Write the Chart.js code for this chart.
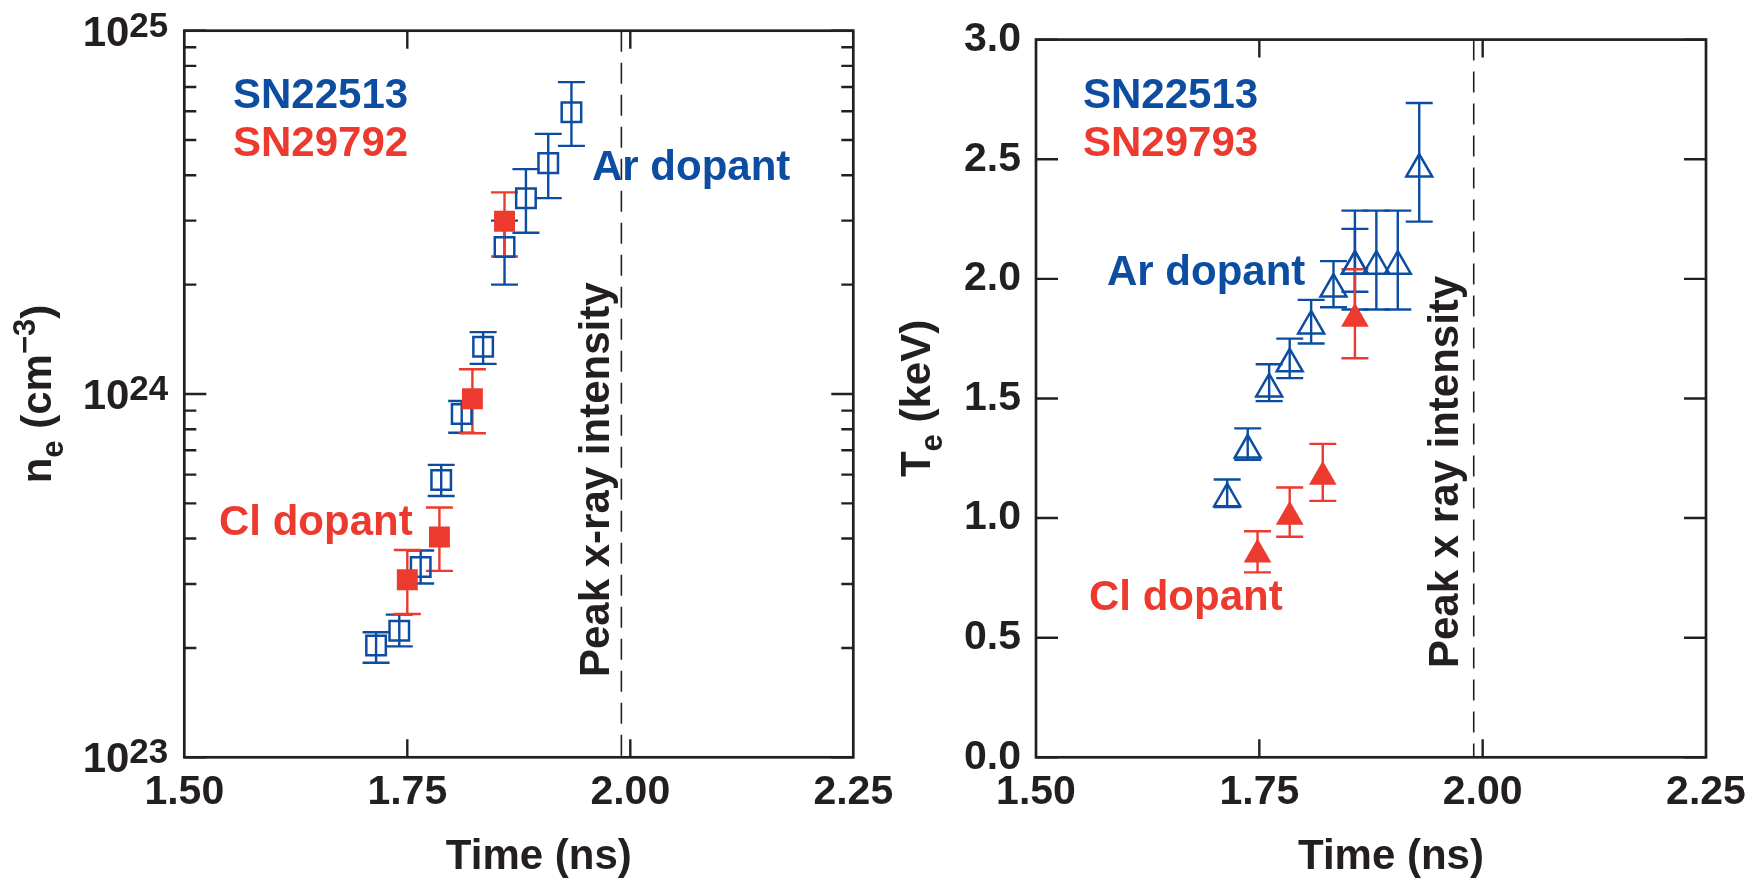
<!DOCTYPE html>
<html>
<head>
<meta charset="utf-8">
<script src="https://cdn.jsdelivr.net/npm/chart.js@4.4.1/dist/chart.umd.min.js"></script>
<style>
  html, body { margin: 0; padding: 0; background: #ffffff; }
  body { width: 1760px; height: 881px; position: relative; overflow: hidden; }
  canvas { position: absolute; top: 0; }
  #cA { left: 0; }
  #cB { left: 880px; }
</style>
</head>
<body>
<canvas id="cA" width="920" height="881"></canvas>
<canvas id="cB" width="880" height="881"></canvas>
<script>
// ---------------- data ----------------
const X_TICKS = [1.50, 1.75, 2.00, 2.25];
const X_TITLE = 'Time (ns)';
const PEAK_XRAY_TIME = 1.99;

// Left panel: electron density n_e (cm^-3)
const NE_AR_TIME = [1.715, 1.741, 1.765, 1.788, 1.811, 1.835, 1.859, 1.883, 1.908, 1.934];
const NE_AR      = [2.03e23, 2.23e23, 3.34e23, 5.80e23, 8.81e23, 1.35e24, 2.54e24, 3.46e24, 4.32e24, 5.96e24];
const NE_AR_LOW  = [1.82e23, 2.02e23, 3.01e23, 5.24e23, 7.82e23, 1.21e24, 2.00e24, 2.78e24, 3.46e24, 4.82e24];
const NE_AR_HIGH = [2.21e23, 2.47e23, 3.71e23, 6.38e23, 9.57e23, 1.48e24, 3.00e24, 4.16e24, 5.20e24, 7.22e24];
const NE_CL_TIME = [1.750, 1.786, 1.823, 1.859];
const NE_CL      = [3.08e23, 4.04e23, 9.70e23, 2.99e24];
const NE_CL_LOW  = [2.48e23, 3.26e23, 7.80e23, 2.39e24];
const NE_CL_HIGH = [3.72e23, 4.87e23, 1.17e24, 3.59e24];
const NE_MAJOR_TICKS = [1e23, 1e24, 1e25];
const NE_MAJOR_EXP   = ['23', '24', '25'];
const NE_MINOR_TICKS = [2e23, 3e23, 4e23, 5e23, 6e23, 7e23, 8e23, 9e23,
                        2e24, 3e24, 4e24, 5e24, 6e24, 7e24, 8e24, 9e24];

// Right panel: electron temperature T_e (keV)
const TE_AR_TIME = [1.714, 1.737, 1.761, 1.784, 1.808, 1.833, 1.857, 1.857, 1.881, 1.905, 1.929];
const TE_AR      = [1.081, 1.284, 1.540, 1.645, 1.803, 1.957, 2.053, 2.053, 2.053, 2.053, 2.459];
const TE_AR_LOW  = [1.046, 1.244, 1.489, 1.585, 1.730, 1.881, 1.946, 1.872, 1.872, 1.872, 2.239];
const TE_AR_HIGH = [1.161, 1.375, 1.643, 1.750, 1.912, 2.074, 2.209, 2.285, 2.285, 2.285, 2.735];
const TE_CL_TIME = [1.748, 1.784, 1.821, 1.857];
const TE_CL      = [0.848, 1.005, 1.173, 1.833];
const TE_CL_LOW  = [0.773, 0.922, 1.072, 1.668];
const TE_CL_HIGH = [0.945, 1.128, 1.310, 2.040];
const TE_TICKS = [0.0, 0.5, 1.0, 1.5, 2.0, 2.5, 3.0];

// ---------------- style ----------------
const BLUE = '#0D4DA1';
const RED  = '#EC3A2F';
const INK  = '#231F20';
const FONT = '"Liberation Sans", Arial, Helvetica, sans-serif';
Chart.defaults.font.family = FONT;
Chart.defaults.color = INK;

const CAP = 13.5;

function pts(xs, ys) { return xs.map((t, i) => ({ x: t, y: ys[i] })); }

function drawRich(ctx, segs, baseX, centerY) {
  ctx.save();
  ctx.translate(baseX, centerY);
  ctx.rotate(-Math.PI / 2);
  ctx.textAlign = 'left';
  ctx.textBaseline = 'alphabetic';
  let total = 0;
  segs.forEach(s => { ctx.font = 'bold ' + s.size + 'px ' + FONT; s.w = ctx.measureText(s.t).width; total += s.w; });
  let cx = -total / 2;
  segs.forEach(s => {
    ctx.font = 'bold ' + s.size + 'px ' + FONT;
    ctx.fillText(s.t, cx, s.dy || 0);
    cx += s.w;
  });
  ctx.restore();
}

function panelPlugin(opt) {
  return {
    id: 'panel_' + opt.name,
    beforeDatasetsDraw(chart) {
      const ctx = chart.ctx, a = chart.chartArea, xs = chart.scales.x, ys = chart.scales.y;
      ctx.save();
      const px = xs.getPixelForValue(PEAK_XRAY_TIME);
      ctx.strokeStyle = INK; ctx.lineWidth = 1.6; ctx.setLineDash([21, 11]);
      ctx.beginPath(); ctx.moveTo(px, a.top); ctx.lineTo(px, a.bottom); ctx.stroke();
      ctx.setLineDash([]);
      ctx.lineWidth = 2.4; ctx.lineCap = 'butt';
      opt.errors.forEach(s => {
        ctx.strokeStyle = s.color;
        s.time.forEach((t, i) => {
          const x = xs.getPixelForValue(t);
          const y1 = ys.getPixelForValue(s.low[i]);
          const y2 = ys.getPixelForValue(s.high[i]);
          ctx.beginPath();
          ctx.moveTo(x, y1); ctx.lineTo(x, y2);
          ctx.moveTo(x - CAP, y1); ctx.lineTo(x + CAP, y1);
          ctx.moveTo(x - CAP, y2); ctx.lineTo(x + CAP, y2);
          ctx.stroke();
        });
      });
      ctx.restore();
    },
    afterDatasetsDraw(chart) {
      const ctx = chart.ctx, a = chart.chartArea, xs = chart.scales.x, ys = chart.scales.y;
      ctx.save();
      ctx.strokeStyle = INK; ctx.lineWidth = 2.7;
      ctx.strokeRect(a.left, a.top, a.right - a.left, a.bottom - a.top);
      ctx.lineWidth = 2.4;
      ctx.beginPath();
      X_TICKS.forEach(v => {
        if (v <= xs.min || v >= xs.max) return;
        const x = xs.getPixelForValue(v);
        ctx.moveTo(x, a.bottom); ctx.lineTo(x, a.bottom - 18);
        ctx.moveTo(x, a.top); ctx.lineTo(x, a.top + 18);
      });
      opt.yMajor.forEach(v => {
        const y = ys.getPixelForValue(v);
        ctx.moveTo(a.left, y); ctx.lineTo(a.left + 22, y);
        ctx.moveTo(a.right, y); ctx.lineTo(a.right - 22, y);
      });
      opt.yMinor.forEach(v => {
        const y = ys.getPixelForValue(v);
        ctx.moveTo(a.left, y); ctx.lineTo(a.left + 12, y);
        ctx.moveTo(a.right, y); ctx.lineTo(a.right - 12, y);
      });
      ctx.stroke();

      if (opt.powerLabels) {
        ctx.fillStyle = INK;
        ctx.textAlign = 'left'; ctx.textBaseline = 'alphabetic';
        NE_MAJOR_TICKS.forEach((v, i) => {
          const y = ys.getPixelForValue(v);
          ctx.font = 'bold 35px ' + FONT;
          const ws = ctx.measureText(NE_MAJOR_EXP[i]).width;
          ctx.font = 'bold 42px ' + FONT;
          const wb = ctx.measureText('10').width;
          const xr = a.left - 16;
          ctx.fillText('10', xr - ws - wb, y + 15);
          ctx.font = 'bold 35px ' + FONT;
          ctx.fillText(NE_MAJOR_EXP[i], xr - ws, y + 6);
        });
      }

      ctx.textAlign = 'left'; ctx.textBaseline = 'alphabetic';
      opt.notes.forEach(n => {
        ctx.fillStyle = n.color;
        ctx.font = 'bold ' + (n.size || 42) + 'px ' + FONT;
        if (n.rotate) {
          ctx.save();
          ctx.translate(n.x, n.y);
          ctx.rotate(-Math.PI / 2);
          ctx.fillText(n.text, 0, 0);
          ctx.restore();
        } else {
          ctx.fillText(n.text, n.x, n.y);
        }
      });

      // x axis title (slightly right of centre, as in the original)
      ctx.fillStyle = INK;
      ctx.font = 'bold 42px ' + FONT;
      ctx.textAlign = 'center';
      ctx.fillText(X_TITLE, (a.left + a.right) / 2 + 20, 869);

      // y axis title
      drawRich(ctx, opt.yTitle, opt.yTitleX, (a.top + a.bottom) / 2);
      ctx.restore();
    }
  };
}

function xScale() {
  return {
    type: 'linear', min: 1.5, max: 2.25,
    afterBuildTicks: s => { s.ticks = X_TICKS.map(v => ({ value: v })); },
    ticks: { callback: v => Number(v).toFixed(2), font: { size: 41, weight: 'bold' }, color: INK,
             padding: 11, maxRotation: 0, autoSkip: false },
    grid: { display: false, drawTicks: false },
    border: { display: false },
    title: { display: false, text: X_TITLE },
    afterFit: s => { s.height = 881 - 757.3; }
  };
}

const commonOpts = {
  responsive: false,
  animation: false,
  devicePixelRatio: 1,
  plugins: { legend: { display: false }, tooltip: { enabled: false } },
  events: []
};

new Chart(document.getElementById('cA'), {
  type: 'scatter',
  data: {
    datasets: [
      { label: 'SN29792 (Cl dopant)', data: pts(NE_CL_TIME, NE_CL), pointStyle: 'rect',
        pointRadius: 14.8, backgroundColor: RED, borderColor: RED, borderWidth: 0, order: 0 },
      { label: 'SN22513 (Ar dopant)', data: pts(NE_AR_TIME, NE_AR), pointStyle: 'rect',
        pointRadius: 13.8, backgroundColor: 'rgba(0,0,0,0)', borderColor: BLUE, borderWidth: 2.5, order: 1 }
    ]
  },
  options: Object.assign({}, commonOpts, {
    layout: { padding: { left: 0, right: 920 - 853.3, top: 30.7, bottom: 0 } },
    scales: {
      x: xScale(),
      y: {
        type: 'logarithmic', min: 1e23, max: 1e25,
        afterBuildTicks: s => { s.ticks = NE_MAJOR_TICKS.map(v => ({ value: v })); },
        ticks: { display: false },
        grid: { display: false, drawTicks: false },
        border: { display: false },
        afterFit: s => { s.width = 184.3; }
      }
    }
  }),
  plugins: [panelPlugin({
    name: 'ne',
    errors: [
      { time: NE_AR_TIME, low: NE_AR_LOW, high: NE_AR_HIGH, color: BLUE },
      { time: NE_CL_TIME, low: NE_CL_LOW, high: NE_CL_HIGH, color: RED }
    ],
    yMajor: NE_MAJOR_TICKS, yMinor: NE_MINOR_TICKS, powerLabels: true,
    notes: [
      { text: 'SN22513', x: 233, y: 108, color: BLUE },
      { text: 'SN29792', x: 233, y: 156, color: RED },
      { text: 'Ar dopant', x: 592, y: 180, color: BLUE },
      { text: 'Cl dopant', x: 219, y: 535, color: RED },
      { text: 'Peak x-ray intensity', x: 609, y: 677, color: INK, rotate: true }
    ],
    yTitle: [
      { t: 'n', size: 42 }, { t: 'e', size: 31, dy: 12 }, { t: ' (cm', size: 42 },
      { t: '\u22123', size: 31, dy: -16 }, { t: ')', size: 42 }
    ],
    yTitleX: 50.7
  })]
});

new Chart(document.getElementById('cB'), {
  type: 'scatter',
  data: {
    datasets: [
      { label: 'SN29793 (Cl dopant)', data: pts(TE_CL_TIME, TE_CL), pointStyle: 'triangle',
        pointRadius: 16, backgroundColor: RED, borderColor: RED, borderWidth: 0, order: 0 },
      { label: 'SN22513 (Ar dopant)', data: pts(TE_AR_TIME, TE_AR), pointStyle: 'triangle',
        pointRadius: 15, backgroundColor: 'rgba(0,0,0,0)', borderColor: BLUE, borderWidth: 2.5, order: 1 }
    ]
  },
  options: Object.assign({}, commonOpts, {
    layout: { padding: { left: 0, right: 880 - 826, top: 30.7, bottom: 0 } },
    scales: {
      x: xScale(),
      y: {
        type: 'linear', min: 0, max: 3,
        afterBuildTicks: s => { s.ticks = TE_TICKS.map(v => ({ value: v })); },
        ticks: { callback: v => Number(v).toFixed(1), font: { size: 41, weight: 'bold' }, color: INK, padding: 15 },
        grid: { display: false, drawTicks: false },
        border: { display: false },
        afterFit: s => { s.width = 156; }
      }
    }
  }),
  plugins: [panelPlugin({
    name: 'te',
    errors: [
      { time: TE_AR_TIME, low: TE_AR_LOW, high: TE_AR_HIGH, color: BLUE },
      { time: TE_CL_TIME, low: TE_CL_LOW, high: TE_CL_HIGH, color: RED }
    ],
    yMajor: TE_TICKS, yMinor: [], powerLabels: false,
    notes: [
      { text: 'SN22513', x: 203, y: 108, color: BLUE },
      { text: 'SN29793', x: 203, y: 156, color: RED },
      { text: 'Ar dopant', x: 227, y: 285, color: BLUE },
      { text: 'Cl dopant', x: 209, y: 610, color: RED },
      { text: 'Peak x ray intensity', x: 578, y: 668, color: INK, rotate: true }
    ],
    yTitle: [
      { t: 'T', size: 42 }, { t: 'e', size: 31, dy: 12 }, { t: ' (keV)', size: 42 }
    ],
    yTitleX: 50
  })]
});
</script>
</body>
</html>
